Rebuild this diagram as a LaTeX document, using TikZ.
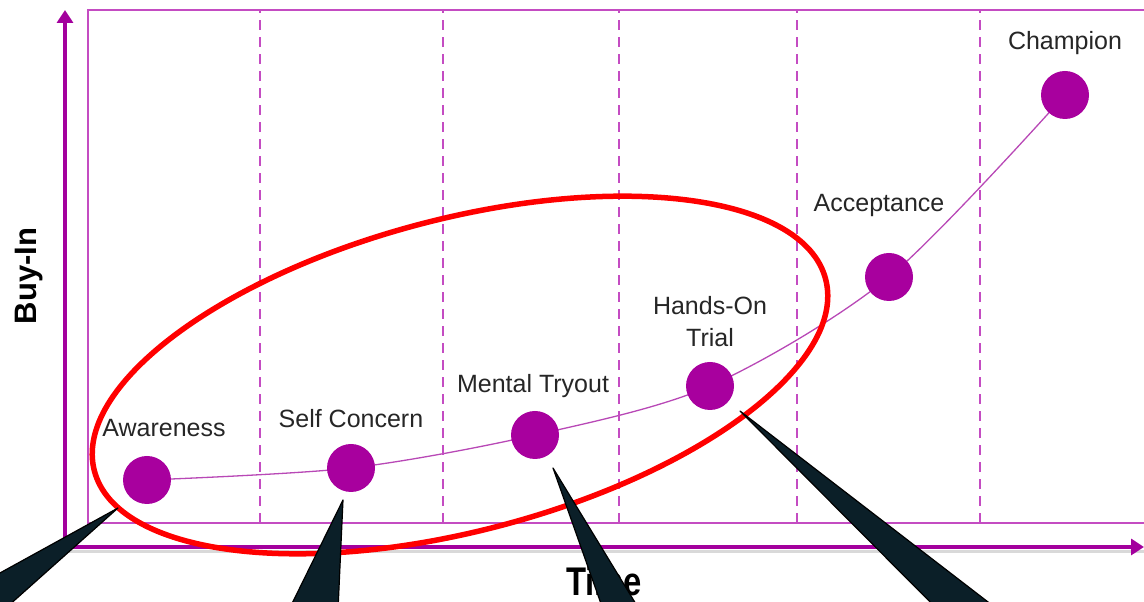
\documentclass[tikz,border=0pt]{standalone}
\usepackage{fontspec}
\setmainfont{Liberation Sans}
\usepackage{tikz}
\usetikzlibrary{arrows.meta,backgrounds}

\definecolor{axisc}{HTML}{A3009D}
\definecolor{framec}{HTML}{C44CC2}
\definecolor{dotc}{HTML}{A8009E}
\definecolor{curvec}{HTML}{B848B6}
\definecolor{ringc}{HTML}{FF0000}
\definecolor{pointerc}{HTML}{0B1F28}
\definecolor{ink}{HTML}{262626}

\begin{document}
\begin{tikzpicture}[x=1pt, y=1pt,
  axisline/.style={axisc, line width=4.5pt, -{Triangle[length=13pt,width=16pt]}},
  gridline/.style={framec, line width=1.4pt},
  dot/.style={circle, fill=dotc, inner sep=0pt, minimum size=48pt},
  lbl/.style={font=\fontsize{25}{32}\selectfont, text=ink, align=center},
  pointer/.style={fill=pointerc, draw=black, line width=1.2pt, line join=round}]
  \useasboundingbox (0,0) rectangle (1144,602);
  \clip (0,0) rectangle (1144,602);

  % frame and stage dividers
  \draw[gridline] (88,79) rectangle (1170,592);
  \foreach \x in {260,443,619,797,980}
    \draw[gridline, dash pattern=on 10pt off 7pt] (\x,79) -- (\x,592);

  % axes
  \draw[black!15, line width=3pt] (68,50) -- (1144,50);
  \draw[axisline] (65,55) -- (65,592);
  \draw[axisline] (63,55) -- (1144,55);
  \node[font=\bfseries\fontsize{31}{36}\selectfont, rotate=90] (ylabel) at (29,326) {Buy-In};
  \node[font=\bfseries\fontsize{40}{44}\selectfont, xscale=0.82, inner sep=0pt, anchor=base] (xlabel) at (604,6) {Time};

  % stages
  \node[dot] (aw) at (147,122) {};
  \node[dot] (sc) at (351,134) {};
  \node[dot] (mt) at (535,167) {};
  \node[dot] (ho) at (710,216) {};
  \node[dot] (ac) at (889,325) {};
  \node[dot] (ch) at (1065,507) {};
  \begin{scope}[on background layer]
    \draw[curvec, line width=1.3pt] plot[smooth] coordinates {(aw) (sc) (mt) (ho) (ac) (ch)};
  \end{scope}

  \node[lbl] (aw-l) at (164,174) {Awareness};
  \node[lbl] (sc-l) at (351,183) {Self Concern};
  \node[lbl] (mt-l) at (533,216) {Mental Tryout};
  \node[lbl] (ho-l) at (710,280) {Hands-On\\Trial};
  \node[lbl] (ac-l) at (879,396) {Acceptance};
  \node[lbl] (ch-l) at (1065,559) {Champion};

  % highlight ring
  \draw[ringc, line width=5.5pt] (460,227) circle [x radius=378pt, y radius=156pt, rotate=14.7];

  % callout pointers
  \coordinate (p1) at (118,94);
  \coordinate (p2) at (343,102);
  \coordinate (p3) at (553,134);
  \coordinate (p4) at (740,191);
  \filldraw[pointer] (p1) -- (-60,-4) -- (-21,-30) -- cycle;
  \filldraw[pointer] (p2) -- (278,-30) -- (337,-30) -- cycle;
  \filldraw[pointer] (p3) -- (611,-30) -- (653,-30) -- cycle;
  \filldraw[pointer] (p4) -- (960,-30) -- (1027,-30) -- cycle;
\end{tikzpicture}
\end{document}
